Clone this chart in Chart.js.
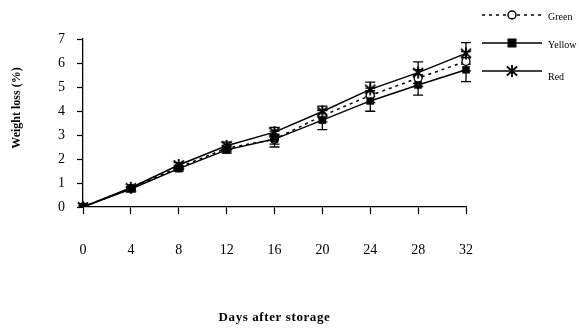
<!DOCTYPE html>
<html>
<head>
<meta charset="utf-8">
<script src="https://cdn.jsdelivr.net/npm/chart.js@4"></script>
<style>
html,body{margin:0;padding:0;background:#fff;}
#wrap{position:relative;width:579px;height:329px;}
</style>
</head>
<body>
<div id="wrap"><canvas id="c" width="579" height="329"></canvas></div>
<script>
const days = ['0','4','8','12','16','20','24','28','32'];
const greenValues  = [0, 0.78, 1.65, 2.45, 2.82, 3.80, 4.65, 5.37, 6.07];
const yellowValues = [0, 0.75, 1.60, 2.38, 2.83, 3.62, 4.42, 5.08, 5.72];
const redValues    = [0, 0.80, 1.75, 2.55, 3.12, 3.98, 4.90, 5.60, 6.40];
const greenErr  = [0, 0.05, 0.08, 0.12, 0.20, 0.25, 0.30, 0.35, 0.40];
const yellowErr = [0, 0.05, 0.10, 0.13, 0.33, 0.40, 0.43, 0.42, 0.50];
const redErr    = [0, 0.05, 0.10, 0.15, 0.20, 0.22, 0.30, 0.45, 0.45];
const yTicks = [0,1,2,3,4,5,6,7];
const seriesNames = ['Green','Yellow','Red'];

function makeStar(size){
  const c = document.createElement('canvas');
  c.width = size; c.height = size;
  const g = c.getContext('2d');
  const m = size/2, r = size/2 - 1;
  g.strokeStyle = '#000'; g.lineWidth = 1.8;
  g.beginPath();
  g.moveTo(m, m-r); g.lineTo(m, m+r);
  g.moveTo(m-r*0.85, m-r*0.75); g.lineTo(m+r*0.85, m+r*0.75);
  g.moveTo(m+r*0.85, m-r*0.75); g.lineTo(m-r*0.85, m+r*0.75);
  g.stroke();
  return c;
}
const starImg = makeStar(14);

const errorBars = {
  id: 'errorBars',
  beforeDatasetsDraw(chart){
    const ctx = chart.ctx;
    const ys = chart.scales.y;
    ctx.save();
    ctx.strokeStyle = '#000';
    ctx.lineWidth = 1.3;
    chart.data.datasets.forEach((ds, i) => {
      const meta = chart.getDatasetMeta(i);
      meta.data.forEach((pt, j) => {
        const e = ds.errors[j];
        if (!e) return;
        const v = ds.data[j];
        const y1 = ys.getPixelForValue(v + e), y2 = ys.getPixelForValue(v - e);
        const x = pt.x, cap = 5;
        ctx.beginPath();
        ctx.moveTo(x, y1); ctx.lineTo(x, y2);
        ctx.moveTo(x-cap, y1); ctx.lineTo(x+cap, y1);
        ctx.moveTo(x-cap, y2); ctx.lineTo(x+cap, y2);
        ctx.stroke();
      });
    });
    ctx.restore();
  }
};

const customText = {
  id: 'customText',
  afterDraw(chart){
    const ctx = chart.ctx;
    const ca = chart.chartArea;
    ctx.save();
    ctx.fillStyle = '#000';
    ctx.textAlign = 'center';
    ctx.textBaseline = 'middle';
    ctx.font = 'bold 13px "Liberation Serif"';
    try { ctx.letterSpacing = '0.6px'; } catch(e) {}
    ctx.fillText('Days after storage', (ca.left+ca.right)/2, 318);
    try { ctx.letterSpacing = '0px'; } catch(e) {}
    ctx.font = 'bold 12px "Liberation Serif"';
    ctx.translate(17, 108);
    ctx.rotate(-Math.PI/2);
    ctx.fillText('Weight loss (%)', 0, 0);
    ctx.restore();

    // legend
    ctx.save();
    const rows = [15, 43, 71];
    const x1 = 482, x2 = 542, xm = 512;
    chart.data.datasets.forEach((ds, i) => {
      const y = rows[i];
      ctx.strokeStyle = '#000';
      ctx.lineWidth = 1.5;
      ctx.setLineDash(ds.borderDash || []);
      ctx.beginPath(); ctx.moveTo(x1, y); ctx.lineTo(x2, y); ctx.stroke();
      ctx.setLineDash([]);
      if (ds.pointStyle === 'circle') {
        ctx.fillStyle = '#fff';
        ctx.beginPath(); ctx.arc(xm, y, 4, 0, Math.PI*2); ctx.fill(); ctx.stroke();
      } else if (ds.pointStyle === 'rect') {
        ctx.fillStyle = '#000';
        ctx.fillRect(xm-4.5, y-4.5, 9, 9);
      } else {
        ctx.drawImage(starImg, xm-7, y-7);
      }
      ctx.fillStyle = '#000';
      ctx.font = '10px "Liberation Serif"';
      ctx.textAlign = 'left';
      ctx.textBaseline = 'middle';
      ctx.fillText(ds.label, 548, y + (i === 2 ? 6 : 2));
    });
    ctx.restore();
  }
};

new Chart(document.getElementById('c'), {
  type: 'line',
  data: {
    labels: days,
    datasets: [
      { label: seriesNames[0], data: greenValues, errors: greenErr, order: 3,
        borderColor: '#000', borderWidth: 1.5, borderDash: [3,4],
        pointStyle: 'circle', pointRadius: 4, pointBackgroundColor: '#fff',
        pointBorderColor: '#000', pointBorderWidth: 1.3, tension: 0 },
      { label: seriesNames[1], data: yellowValues, errors: yellowErr, order: 2,
        borderColor: '#000', borderWidth: 1.5,
        pointStyle: 'rect', pointRadius: 5, pointBackgroundColor: '#000',
        pointBorderColor: '#000', pointBorderWidth: 0.5, tension: 0 },
      { label: seriesNames[2], data: redValues, errors: redErr, order: 1,
        borderColor: '#000', borderWidth: 1.5,
        pointStyle: starImg, pointRadius: 7, tension: 0 }
    ]
  },
  options: {
    responsive: false,
    animation: false,
    events: [],
    layout: { padding: { left: 40, right: 113, top: 39, bottom: 0 } },
    plugins: { legend: { display: false }, tooltip: { enabled: false } },
    scales: {
      x: {
        offset: false,
        grid: { drawOnChartArea: false, tickLength: 7, tickColor: '#000', tickWidth: 1.2 },
        border: { color: '#000', width: 1.3 },
        ticks: { color: '#000', padding: 28, font: { family: 'Liberation Serif', size: 14 }, maxRotation: 0 },
        afterFit(s){ s.height = 122; }
      },
      y: {
        min: 0, max: 7,
        afterBuildTicks(s){ s.ticks = yTicks.map(v => ({ value: v })); },
        grid: { drawOnChartArea: false, tickLength: 6, tickColor: '#000', tickWidth: 1.2 },
        border: { color: '#000', width: 1.3 },
        ticks: { color: '#000', padding: 12, font: { family: 'Liberation Serif', size: 14 } },
        afterFit(s){ s.width = 43; }
      }
    }
  },
  plugins: [errorBars, customText]
});
</script>
</body>
</html>
